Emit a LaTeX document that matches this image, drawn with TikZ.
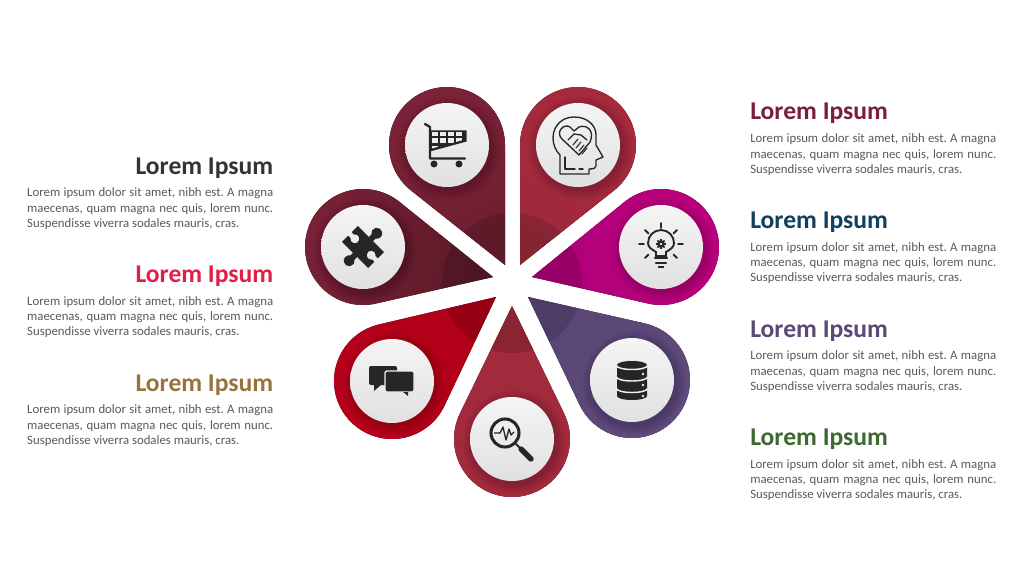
\documentclass[tikz,border=0pt]{standalone}
\usepackage{fontspec}
\setmainfont{Carlito}
\usetikzlibrary{positioning, calc}
\definecolor{icon}{HTML}{262626}
\definecolor{bodytext}{HTML}{595959}
\definecolor{discface}{HTML}{EEEEEE}
\definecolor{cartA}{HTML}{7C2238}
\definecolor{cartB}{HTML}{6E1F30}
\definecolor{headA}{HTML}{A62A3C}
\definecolor{headB}{HTML}{9E2A3C}
\definecolor{bulbA}{HTML}{BA007C}
\definecolor{bulbB}{HTML}{B0007A}
\definecolor{dbA}{HTML}{5F4B7C}
\definecolor{dbB}{HTML}{5A4675}
\definecolor{findA}{HTML}{A32A3C}
\definecolor{findB}{HTML}{A02A3C}
\definecolor{chatA}{HTML}{B8001C}
\definecolor{chatB}{HTML}{B00018}
\definecolor{puzzA}{HTML}{7A2136}
\definecolor{puzzB}{HTML}{5A1A28}
\definecolor{titleA}{HTML}{7B1F38}
\definecolor{titleB}{HTML}{113F5E}
\definecolor{titleC}{HTML}{5A4878}
\definecolor{titleD}{HTML}{3C6932}
\definecolor{titleE}{HTML}{333333}
\definecolor{titleF}{HTML}{E21E46}
\definecolor{titleG}{HTML}{96733C}
\newcommand{\petal}[6]{%
  \pgfmathsetmacro{\ang}{atan2(#2-#4,#1-#3)}%
  \pgfmathsetmacro{\len}{veclen(#1-#3,#2-#4)}%
  \pgfmathsetmacro{\alp}{90+asin(58/\len)}%
  \pgfmathsetmacro{\shang}{\ang-90}%
  \begin{scope}[shift={(#3,#4)},rotate=\ang]
    \fill[top color=#5,bottom color=#6,shading angle=\shang] (0,0) -- ($(\len,0)+(-\alp:58)$) arc[start angle=-\alp,end angle=\alp,radius=58] -- cycle;
  \end{scope}
  \begin{scope}
    \begin{scope}[shift={(#3,#4)},rotate=\ang]
      \clip (0,0) -- ($(\len,0)+(-\alp:58)$) arc[start angle=-\alp,end angle=\alp,radius=58] -- cycle;
      \fill[black,opacity=.14,rotate=-\ang,shift={(-#3,-#4)}] (512,293) circle (70);
    \end{scope}
  \end{scope}
  \foreach \r in {43,44,...,52}
    \fill[black,opacity=.016] (#1+2,#2-3) circle (\r);
}
\tikzset{
  disc/.style={circle,inner sep=0pt,outer sep=0pt,minimum size=63pt,top color=white!96!black,bottom color=white!88!black},
  title/.style={font=\fontsize{19.2}{21}\selectfont\bfseries,inner sep=0pt},
  body/.style={font=\fontsize{9.6}{11.5}\selectfont\frenchspacing,text=bodytext,inner sep=0pt,text width=184.5pt,align=justify},
  stroke/.style={draw=icon,line width=1pt,line cap=round,line join=round},
}
\newcommand{\lorem}{Lorem ipsum dolor sit amet, nibh est. A magna\linebreak maecenas, quam magna nec quis, lorem nunc.\linebreak Suspendisse viverra sodales mauris, cras.}
\begin{document}
\begin{tikzpicture}[x=0.75pt,y=0.75pt]
\useasboundingbox (0,0) rectangle (1024,576);

% Petals
\petal{447}{431}{505}{311}{cartA}{cartB}
\petal{578}{431}{520}{311}{headA}{headB}
\petal{661}{329}{532}{299}{bulbA}{bulbB}
\petal{632}{196}{528}{279}{dbA}{dbB}
\petal{512}{137}{512}{270}{findA}{findB}
\petal{392}{195}{496}{279}{chatA}{chatB}
\petal{363}{329}{493}{299}{puzzA}{puzzB}

% Discs
\node[disc] (cart) at (447,431) {};
\node[disc] (mind) at (578,431) {};
\node[disc] (bulb) at (661,329) {};
\node[disc] (data) at (632,196) {};
\node[disc] (find) at (512,137) {};
\node[disc] (chat) at (392,195) {};
\node[disc] (puzz) at (363,329) {};

% Cart
\begin{scope}[shift={(cart)}]
\fill[icon] (-17,14.5) -- (19.5,14.5) -- (19.5,3.5) -- (-17,-6.5) -- cycle;
\begin{scope}
\clip (-17,14.5) -- (18,14.5) -- (18,5.5) -- (-17,-4) -- cycle;
\foreach \x in {-15,-7,1,9} \foreach \y in {8.8,2.4,-5}
  \fill[discface] (\x,\y) rectangle ++(6.2,4.2);
\end{scope}
\draw[icon,line width=1.7pt,line cap=round,line join=round] (-22,21) -- (-17,18) -- (-17,-13.5) -- (18,-13.5);
\fill[icon] (-13,-19) circle (3.5) (12,-19) circle (3.5);
\end{scope}

% Mind
\begin{scope}[shift={(mind)}]
\draw[stroke] (-18,-29) -- (-18,-10) .. controls (-22,-6) and (-25,0) .. (-25,7) .. controls (-25,20) and (-15,28) .. (-4,28) .. controls (9,28) and (18,20) .. (18,10) -- (18,0) -- (25,-12) -- (18,-15) -- (18,-21) .. controls (18,-23) and (16,-24) .. (11,-24) -- (11,-29) -- cycle;
\draw[stroke] (-13,-12) -- (-13,-24) -- (-3,-24) (1,-24) -- (5,-24);
\draw[stroke] (1,-10) -- (-16,6) .. controls (-23,13) and (-14,22) .. (-8,18) -- (-4,14) -- (1,18) .. controls (9,21) and (17,14) .. (12,3) -- cycle;
\draw[stroke] (-10,5) -- (-4,11) -- (3,10) -- (9,5);
\foreach \k in {0,1,2,3} \draw[stroke,line width=.8pt] (-5+\k*3,0-\k*3) -- (0+\k*3,6-\k*3);
\end{scope}

% Bulb
\begin{scope}[shift={(bulb)}]
\draw[icon,line width=1.4pt] (-5,-9) -- (-5,-5) .. controls (-10,-2) and (-13,0) .. (-13,4) arc[start angle=180,end angle=0,radius=13] .. controls (13,0) and (10,-2) .. (5,-5) -- (5,-9) -- cycle;
\draw[icon,line width=1.6pt,line cap=round] (-6,-11) -- (6,-11) (-5,-16) -- (5,-16);
\fill[icon] (-3,-19) rectangle (3,-21);
\draw[icon,line width=1.8pt] (0,3) circle (2.6);
\foreach \a in {0,45,...,315} \draw[icon,line width=1.3pt] (0,3) ++(\a:3.2) -- ++(\a:1.8);
\draw[icon,line width=1.4pt,line cap=round] (0,24) -- (0,19) (-22,3) -- (-17,3) (17,3) -- (22,3) (-16,17) -- (-12.5,13.5) (16,17) -- (12.5,13.5) (-16,-11) -- (-12.5,-7.5) (16,-11) -- (12.5,-7.5);
\end{scope}

% Data
\begin{scope}[shift={(data)}]
\fill[icon] (-15,15) arc[x radius=15,y radius=4,start angle=180,end angle=0] -- (15,-16) arc[x radius=15,y radius=4,start angle=0,end angle=-180] -- cycle;
\draw[discface,line width=1.1pt] (-15.5,14.5) arc[x radius=15.5,y radius=4,start angle=180,end angle=360];
\draw[discface,line width=1.1pt] (-15.5,3) arc[x radius=15.5,y radius=4,start angle=180,end angle=360];
\draw[discface,line width=1.1pt] (-15.5,-8.5) arc[x radius=15.5,y radius=4,start angle=180,end angle=360];
\fill[discface] (11,6) circle (1.4) (11,-5) circle (1.4) (11,-16) circle (1.4);
\end{scope}

% Find
\begin{scope}[shift={(find)}]
\draw[icon,line width=2.3pt] (-7,6) circle (14);
\draw[icon,line width=1.5pt,line cap=round] (4,-5) -- (9,-10);
\draw[icon,line width=4pt,line cap=round] (9,-10) -- (19,-20);
\draw[icon,line width=1pt,line join=round] (-18,6) -- (-12,6) -- (-9,12) -- (-6,-1) -- (-3,10) -- (-1,4) -- (2,7);
\end{scope}

% Chat
\begin{scope}[shift={(chat)}]
\fill[icon,rounded corners=1.5pt] (-23,15) -- (5,15) -- (5,-4) -- (-23,-4) -- cycle;
\fill[icon] (-18,-4) -- (-18,-10) -- (-11,-4) -- cycle;
\fill[icon,draw=discface,line width=1pt,rounded corners=1.5pt] (-7,10) -- (22,10) -- (22,-11) -- (-7,-11) -- cycle;
\fill[icon] (11,-11) -- (16,-15) -- (16,-11) -- cycle;
\end{scope}

% Puzzle
\begin{scope}[shift={(puzz)},rotate=-45]
\fill[icon] (-18.4,11.3) -- (-3,11.3) -- (-3,14.9) arc[start angle=237,end angle=-57,radius=5.5] -- (3,11.3) -- (18.4,11.3) -- (18.4,2.5) -- (15.3,2.5) arc[start angle=33,end angle=327,radius=4.5] -- (18.4,-2.5) -- (18.4,-11.3) -- (3,-11.3) -- (3,-14.9) arc[start angle=57,end angle=-237,radius=5.5] -- (-3,-11.3) -- (-18.4,-11.3) -- (-18.4,-2.5) -- (-15.3,-2.5) arc[start angle=213,end angle=507,radius=4.5] -- (-18.4,2.5) -- cycle;
\end{scope}

% Right column
\node[title,anchor=base west,text=titleA] (t1) at (750,456) {Lorem Ipsum};
\node[body,below=7pt of t1.south west,anchor=north west] (b1) {\lorem};
\node[title,anchor=base west,text=titleB] (t2) at (750,347.5) {Lorem Ipsum};
\node[body,below=7pt of t2.south west,anchor=north west] (b2) {\lorem};
\node[title,anchor=base west,text=titleC] (t3) at (750,239) {Lorem Ipsum};
\node[body,below=7pt of t3.south west,anchor=north west] (b3) {\lorem};
\node[title,anchor=base west,text=titleD] (t4) at (750,130.5) {Lorem Ipsum};
\node[body,below=7pt of t4.south west,anchor=north west] (b4) {\lorem};

% Left column
\node[title,anchor=base east,text=titleE] (t5) at (273.5,402) {Lorem Ipsum};
\node[body,below=7pt of t5.south east,anchor=north east] (b5) {\lorem};
\node[title,anchor=base east,text=titleF] (t6) at (273.5,293.5) {Lorem Ipsum};
\node[body,below=7pt of t6.south east,anchor=north east] (b6) {\lorem};
\node[title,anchor=base east,text=titleG] (t7) at (273.5,185) {Lorem Ipsum};
\node[body,below=7pt of t7.south east,anchor=north east] (b7) {\lorem};
\end{tikzpicture}
\end{document}
